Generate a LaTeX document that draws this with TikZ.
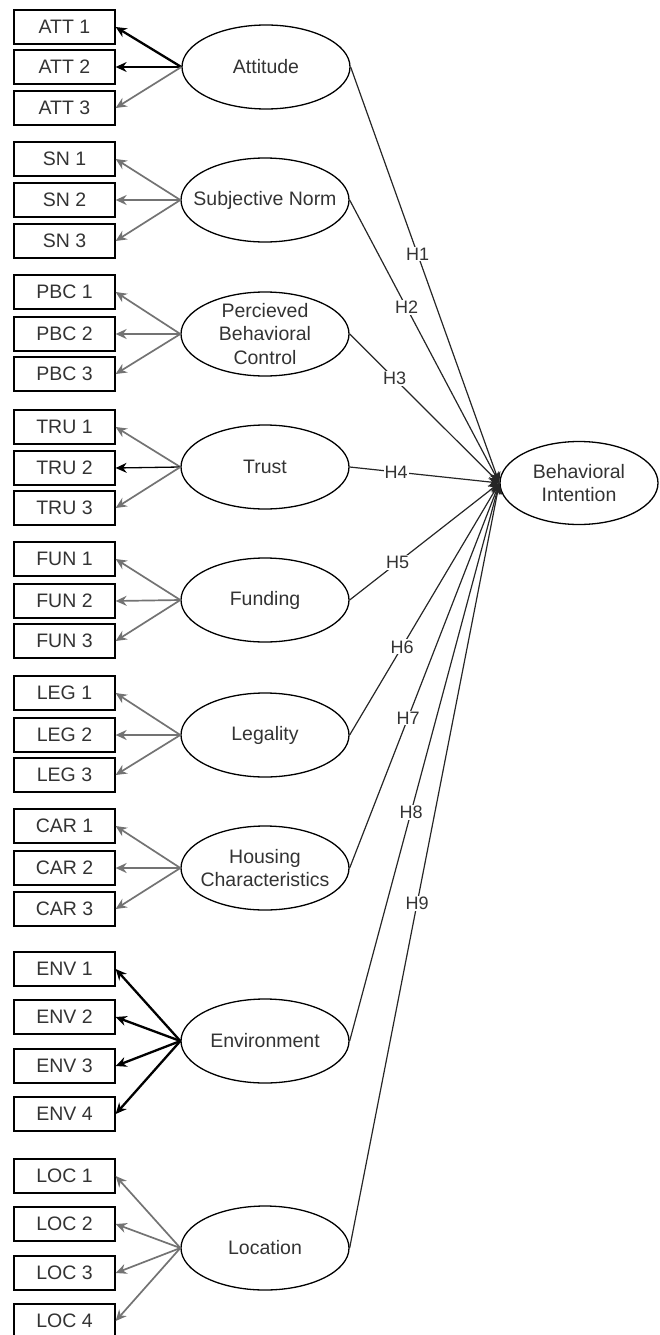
\documentclass[tikz,border=0pt]{standalone}
\usepackage{fontspec}
\setmainfont{Liberation Sans}
\usetikzlibrary{shapes.geometric}
\usetikzlibrary{arrows.meta}

\tikzset{
  indbox/.style={draw, line width=1.3pt, minimum width=101pt, minimum height=34pt, inner sep=0pt, font=\fontsize{19.5}{23}\selectfont, text=black!80},
  latent/.style={draw, ellipse, line width=1.3pt, minimum width=168pt, minimum height=84pt, inner sep=0pt},
  lattext/.style={font=\fontsize{19.5}{23.5}\selectfont, align=center, text=black!80, inner sep=0pt},
  load/.style={-{Stealth[length=11pt,width=10pt]}, line width=1.7pt, black!55},
  loadthin/.style={load, line width=1.3pt, black},
  loadthick/.style={load, line width=2.3pt, black},
  hyp/.style={-{Stealth[length=11pt,width=10pt]}, line width=1.2pt, black!85},
  hlab/.style={fill=white, inner sep=1pt, font=\fontsize{18}{21}\selectfont, text=black!80},
}

\begin{document}
\begin{tikzpicture}[x=1pt,y=-1pt]
\useasboundingbox (0,0) rectangle (659,1335);

\node[latent, label={[lattext]center:Attitude}] (att) at (266,67) {};
\node[latent, label={[lattext]center:Subjective Norm}] (sn) at (265,200) {};
\node[latent, label={[lattext]center:{Percieved\\Behavioral\\Control}}] (pbc) at (265,334) {};
\node[latent, label={[lattext]center:Trust}] (tru) at (265,467) {};
\node[latent, label={[lattext]center:Funding}] (fun) at (265,600) {};
\node[latent, label={[lattext]center:Legality}] (leg) at (265,735) {};
\node[latent, label={[lattext]center:{Housing\\Characteristics}}] (car) at (265,868) {};
\node[latent, label={[lattext]center:Environment}] (env) at (265,1041) {};
\node[latent, label={[lattext]center:Location}] (loc) at (265,1248) {};
\node[latent, minimum width=158pt, minimum height=83pt, label={[lattext]center:{Behavioral\\Intention}}] (bi) at (579,483) {};

\node[indbox] (att1) at (64.5,27) {ATT 1};
\node[indbox] (att2) at (64.5,67) {ATT 2};
\node[indbox] (att3) at (64.5,108) {ATT 3};
\node[indbox] (sn1) at (64.5,159) {SN 1};
\node[indbox] (sn2) at (64.5,200) {SN 2};
\node[indbox] (sn3) at (64.5,241) {SN 3};
\node[indbox] (pbc1) at (64.5,292) {PBC 1};
\node[indbox] (pbc2) at (64.5,334) {PBC 2};
\node[indbox] (pbc3) at (64.5,374) {PBC 3};
\node[indbox] (tru1) at (64.5,427) {TRU 1};
\node[indbox] (tru2) at (64.5,468) {TRU 2};
\node[indbox] (tru3) at (64.5,508) {TRU 3};
\node[indbox] (fun1) at (64.5,559) {FUN 1};
\node[indbox] (fun2) at (64.5,601) {FUN 2};
\node[indbox] (fun3) at (64.5,641) {FUN 3};
\node[indbox] (leg1) at (64.5,693) {LEG 1};
\node[indbox] (leg2) at (64.5,735) {LEG 2};
\node[indbox] (leg3) at (64.5,775) {LEG 3};
\node[indbox] (car1) at (64.5,826) {CAR 1};
\node[indbox] (car2) at (64.5,868) {CAR 2};
\node[indbox] (car3) at (64.5,909) {CAR 3};
\node[indbox] (env1) at (64.5,969) {ENV 1};
\node[indbox] (env2) at (64.5,1017) {ENV 2};
\node[indbox] (env3) at (64.5,1066) {ENV 3};
\node[indbox] (env4) at (64.5,1114) {ENV 4};
\node[indbox] (loc1) at (64.5,1176) {LOC 1};
\node[indbox] (loc2) at (64.5,1224) {LOC 2};
\node[indbox] (loc3) at (64.5,1273) {LOC 3};
\node[indbox] (loc4) at (64.5,1321) {LOC 4};

\draw[loadthick] (att.west) -- (att1.east);
\draw[loadthin] (att.west) -- (att2.east);
\draw[load] (att.west) -- (att3.east);
\draw[load] (sn.west) -- (sn1.east);
\draw[load] (sn.west) -- (sn2.east);
\draw[load] (sn.west) -- (sn3.east);
\draw[load] (pbc.west) -- (pbc1.east);
\draw[load] (pbc.west) -- (pbc2.east);
\draw[load] (pbc.west) -- (pbc3.east);
\draw[load] (tru.west) -- (tru1.east);
\draw[loadthin] (tru.west) -- (tru2.east);
\draw[load] (tru.west) -- (tru3.east);
\draw[load] (fun.west) -- (fun1.east);
\draw[load] (fun.west) -- (fun2.east);
\draw[load] (fun.west) -- (fun3.east);
\draw[load] (leg.west) -- (leg1.east);
\draw[load] (leg.west) -- (leg2.east);
\draw[load] (leg.west) -- (leg3.east);
\draw[load] (car.west) -- (car1.east);
\draw[load] (car.west) -- (car2.east);
\draw[load] (car.west) -- (car3.east);
\draw[loadthick] (env.west) -- (env1.east);
\draw[loadthick] (env.west) -- (env2.east);
\draw[loadthick] (env.west) -- (env3.east);
\draw[loadthick] (env.west) -- (env4.east);
\draw[load] (loc.west) -- (loc1.east);
\draw[load] (loc.west) -- (loc2.east);
\draw[load] (loc.west) -- (loc3.east);
\draw[load] (loc.west) -- (loc4.east);

\draw[hyp] (att.east) -- node[hlab, pos=0.45] {H1} (bi.west);
\draw[hyp] (sn.east) -- node[hlab, pos=0.38] {H2} (bi.west);
\draw[hyp] (pbc.east) -- node[hlab, pos=0.3] {H3} (bi.west);
\draw[hyp] (tru.east) -- node[hlab, pos=0.31] {H4} (bi.west);
\draw[hyp] (fun.east) -- node[hlab, pos=0.32] {H5} (bi.west);
\draw[hyp] (leg.east) -- node[hlab, pos=0.35] {H6} (bi.west);
\draw[hyp] (car.east) -- node[hlab, pos=0.39] {H7} (bi.west);
\draw[hyp] (env.east) -- node[hlab, pos=0.41] {H8} (bi.west);
\draw[hyp] (loc.east) -- node[hlab, pos=0.45] {H9} (bi.west);
\end{tikzpicture}
\end{document}
